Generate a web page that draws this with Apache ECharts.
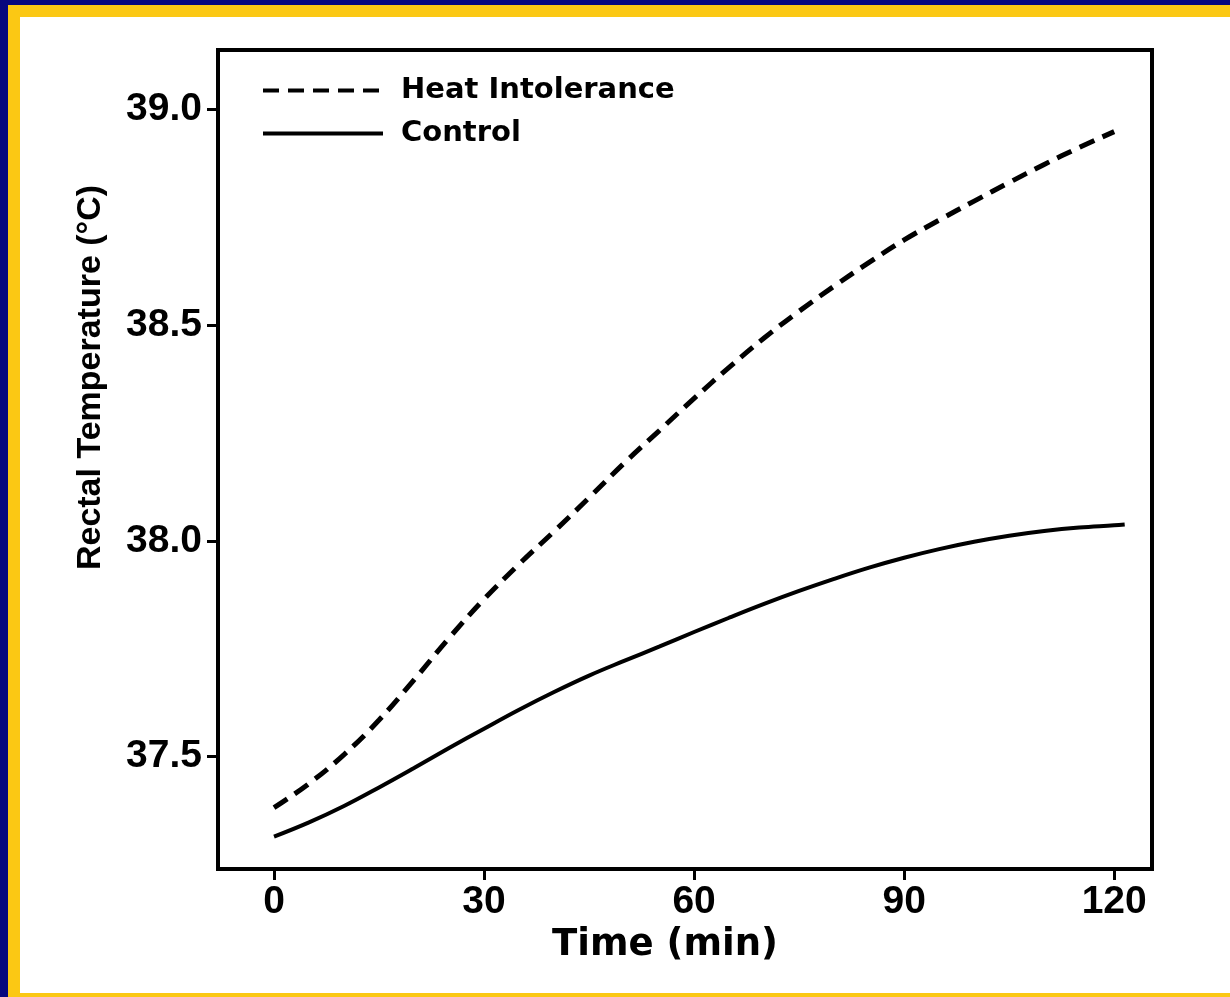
<!DOCTYPE html>
<html>
<head>
<meta charset="utf-8">
<script src="https://cdn.jsdelivr.net/npm/echarts@6/dist/echarts.min.js"></script>
<style>
html, body { margin: 0; padding: 0; background: #fff; }
#chart { width: 1230px; height: 997px; }
</style>
</head>
<body>
<div id="chart"></div>
<script>
// time points (min)
const timeMin = [0, 5, 10, 15, 20, 25, 30, 35, 40, 45, 50, 55, 60, 65, 70, 75, 80, 85, 90, 95, 100, 105, 110, 115, 120]
const heatIntolerance = [37.382, 37.438, 37.505, 37.585, 37.678, 37.775, 37.865, 37.946, 38.022, 38.10, 38.18, 38.255, 38.33, 38.402, 38.47, 38.532, 38.59, 38.645, 38.697, 38.743, 38.787, 38.83, 38.872, 38.911, 38.948]
const controlTime = [0, 5, 10, 15, 20, 25, 30, 35, 40, 45, 50, 55, 60, 65, 70, 75, 80, 85, 90, 95, 100, 105, 110, 115, 120, 121.5]
const control = [37.315, 37.348, 37.386, 37.429, 37.474, 37.52, 37.565, 37.609, 37.65, 37.688, 37.722, 37.755, 37.789, 37.822, 37.854, 37.884, 37.912, 37.938, 37.961, 37.981, 37.998, 38.012, 38.023, 38.031, 38.036, 38.038]
const xTicks = [0, 30, 60, 90, 120]
const yTicks = [37.5, 38.0, 38.5, 39.0]

const BLUE = '#07077e'
const YELLOW = '#fbc814'

let chart = echarts.init(document.getElementById('chart'))
let chartOpt = {
    backgroundColor: '#fff',
    animation: false,
    graphic: [
        { type: 'rect', shape: { x: 0, y: 0, width: 1230, height: 5 }, style: { fill: BLUE }, z: 100 },
        { type: 'rect', shape: { x: 0, y: 0, width: 8, height: 997 }, style: { fill: BLUE }, z: 100 },
        { type: 'rect', shape: { x: 8, y: 5, width: 1222, height: 12 }, style: { fill: YELLOW }, z: 100 },
        { type: 'rect', shape: { x: 8, y: 5, width: 12, height: 992 }, style: { fill: YELLOW }, z: 100 },
        { type: 'rect', shape: { x: 8, y: 993, width: 1222, height: 4 }, style: { fill: YELLOW }, z: 100 }
    ],
    grid: {
        left: 218,
        right: 78,
        top: 50,
        bottom: 128,
        show: true,
        borderColor: '#000',
        borderWidth: 4,
        backgroundColor: 'transparent'
    },
    legend: {
        orient: 'vertical',
        left: 256,
        top: 71,
        itemWidth: 120,
        itemHeight: 20,
        itemGap: 14,
        data: ['Heat Intolerance', 'Control'],
        itemStyle: { opacity: 0 },
        lineStyle: { width: 4 },
        textStyle: {
            fontFamily: 'DejaVu Sans',
            fontWeight: 'bold',
            fontSize: 29,
            color: '#000',
            padding: [0, 0, 0, 13]
        }
    },
    xAxis: {
        type: 'value',
        min: -8,
        max: 125.4,
        name: 'Time (min)',
        nameLocation: 'middle',
        nameGap: 56,
        nameTextStyle: {
            fontFamily: 'DejaVu Sans',
            fontWeight: 'bold',
            fontSize: 37,
            color: '#000',
            padding: [0, 40, 0, 0]
        },
        splitLine: { show: false },
        axisLine: { show: true, onZero: false, lineStyle: { color: '#000', width: 4 } },
        axisTick: { show: true, customValues: xTicks, length: 11, lineStyle: { color: '#000', width: 3 } },
        axisLabel: {
            customValues: xTicks,
            margin: 14,
            fontFamily: 'Liberation Sans',
            fontWeight: 'bold',
            fontSize: 39,
            color: '#000'
        }
    },
    yAxis: {
        type: 'value',
        min: 37.24,
        max: 39.137,
        name: 'Rectal Temperature (°C)',
        nameLocation: 'middle',
        nameRotate: 90,
        nameGap: 110,
        nameTextStyle: {
            fontFamily: 'Liberation Sans',
            fontWeight: 'bold',
            fontSize: 34,
            color: '#000',
            padding: [0, 0, 0, 164]
        },
        splitLine: { show: false },
        axisLine: { show: true, onZero: false, lineStyle: { color: '#000', width: 4 } },
        axisTick: { show: true, customValues: yTicks, length: 11, lineStyle: { color: '#000', width: 3 } },
        axisLabel: {
            customValues: yTicks,
            margin: 16,
            formatter: v => v.toFixed(1),
            fontFamily: 'Liberation Sans',
            fontWeight: 'bold',
            fontSize: 39,
            color: '#000'
        }
    },
    series: [
        {
            name: 'Heat Intolerance',
            type: 'line',
            symbol: 'none',
            smooth: 0.4,
            color: '#000',
            lineStyle: { color: '#000', width: 5, type: [16, 9] },
            data: timeMin.map((t, i) => [t, heatIntolerance[i]])
        },
        {
            name: 'Control',
            type: 'line',
            symbol: 'none',
            smooth: 0.4,
            color: '#000',
            lineStyle: { color: '#000', width: 4, type: 'solid' },
            data: controlTime.map((t, i) => [t, control[i]])
        }
    ]
}

chart.setOption(chartOpt)
</script>
</body>
</html>
